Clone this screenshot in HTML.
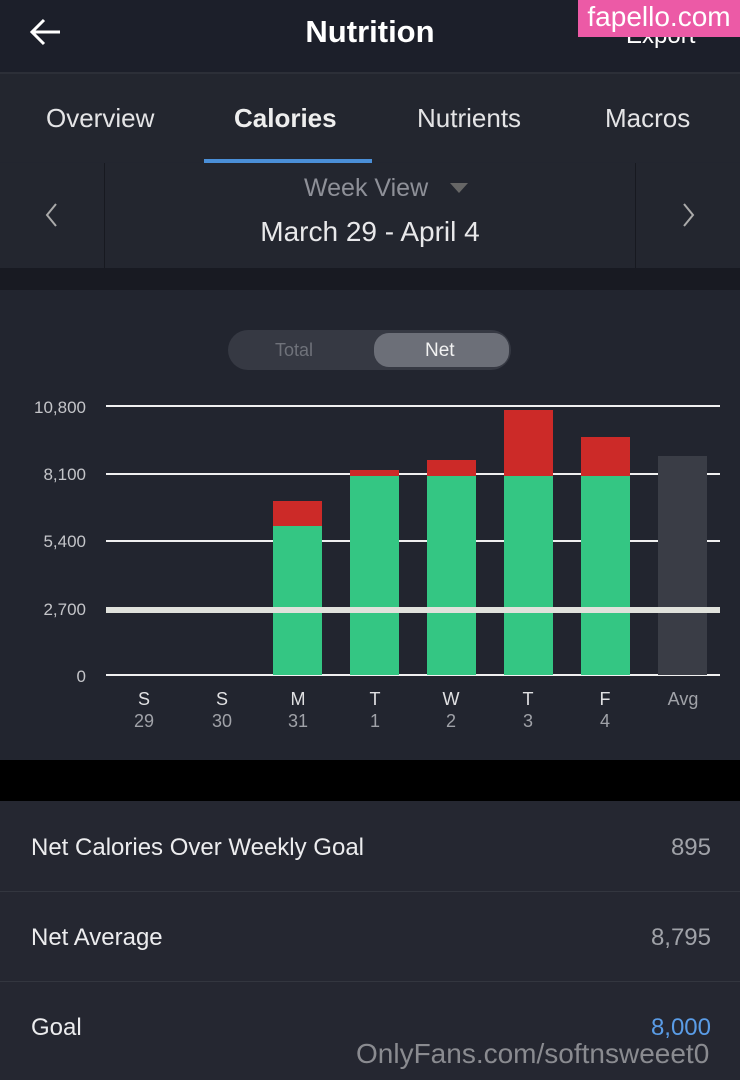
<!DOCTYPE html>
<html><head><meta charset="utf-8"><style>
*{margin:0;padding:0;box-sizing:border-box}
body{width:740px;height:1080px;background:#22252f;font-family:"Liberation Sans",sans-serif;position:relative;overflow:hidden;color:#e8e8ea}
.a{position:absolute}
.t{white-space:nowrap}
</style></head><body>
<div class="a" style="left:0;top:0;width:740px;height:72px;background:#1c1f2a"></div>
<div class="a" style="left:0;top:72px;width:740px;height:2px;background:#2c2f38"></div>
<svg class="a" style="left:28px;top:18px" width="36" height="30"><path d="M4 14 H32 M16 2 L4 14 L16 26" stroke="#fff" stroke-width="3" fill="none"/></svg>
<div class="a t" style="left:0;width:740px;top:14px;text-align:center;font-size:31px;font-weight:bold;color:#fff">Nutrition</div>
<div class="a t" style="left:626px;top:22px;font-size:24px;color:#fff">Export</div>
<div class="a t" style="left:578px;top:0;width:162px;height:37px;background:#ec5aa6;color:#fff;font-size:28px;text-align:center;line-height:34px">fapello.com</div>
<div class="a" style="left:0;top:74px;width:740px;height:88px;background:#23262f"></div>
<div class="a t" style="left:46px;top:103px;font-size:26px;color:#e4e4e6">Overview</div>
<div class="a t" style="left:234px;top:103px;font-size:26px;font-weight:bold;color:#eee">Calories</div>
<div class="a t" style="left:417px;top:103px;font-size:26px;color:#e4e4e6">Nutrients</div>
<div class="a t" style="left:605px;top:103px;font-size:26px;color:#e4e4e6">Macros</div>
<div class="a" style="left:204px;top:159px;width:168px;height:4px;background:#4a8fd8"></div>
<div class="a" style="left:0;top:163px;width:740px;height:105px;background:#23262f"></div>
<div class="a" style="left:104px;top:163px;width:1px;height:105px;background:#171920"></div>
<div class="a" style="left:635px;top:163px;width:1px;height:105px;background:#171920"></div>
<svg class="a" style="left:44px;top:202px" width="16" height="26"><path d="M12 2 L3 13 L12 24" stroke="#aaa" stroke-width="2" fill="none"/></svg>
<svg class="a" style="left:680px;top:202px" width="16" height="26"><path d="M4 2 L13 13 L4 24" stroke="#aaa" stroke-width="2" fill="none"/></svg>
<div class="a t" style="left:304px;top:174px;font-size:25px;color:#8e9098">Week View</div>
<svg class="a" style="left:450px;top:182px" width="18" height="12"><path d="M0 1 H18 L9 11Z" fill="#666"/></svg>
<div class="a t" style="left:0;width:740px;top:216px;text-align:center;font-size:28px;color:#e8e8ea">March 29 - April 4</div>
<div class="a" style="left:0;top:268px;width:740px;height:22px;background:#181a22"></div>
<div class="a" style="left:228px;top:330px;width:283px;height:40px;border-radius:20px;background:#363943"></div>
<div class="a" style="left:374px;top:333px;width:135px;height:34px;border-radius:15px;background:#6c6f78"></div>
<div class="a t" style="left:275px;top:340px;font-size:18px;color:#6f727a">Total</div>
<div class="a t" style="left:425px;top:340px;font-size:19px;color:#f2f2f2">Net</div>
<svg class="a" style="left:0;top:380px" width="740" height="360" font-family="Liberation Sans" >
<g fill="#c4c5c9" font-size="17" text-anchor="end">
<text x="86" y="33">10,800</text><text x="86" y="100">8,100</text><text x="86" y="167">5,400</text><text x="86" y="235">2,700</text><text x="86" y="302">0</text></g>
<g stroke="#f0f0f0" stroke-width="2"><line x1="106" x2="720" y1="26" y2="26"/><line x1="106" x2="720" y1="94" y2="94"/><line x1="106" x2="720" y1="161" y2="161"/><line x1="106" x2="720" y1="295" y2="295"/></g>
<rect x="273" y="121" width="49" height="25" fill="#cc2a28"/><rect x="273" y="146" width="49" height="149" fill="#34c683"/>
<rect x="350" y="90" width="49" height="6" fill="#cc2a28"/><rect x="350" y="96" width="49" height="199" fill="#34c683"/>
<rect x="427" y="80" width="49" height="16" fill="#cc2a28"/><rect x="427" y="96" width="49" height="199" fill="#34c683"/>
<rect x="504" y="30" width="49" height="66" fill="#cc2a28"/><rect x="504" y="96" width="49" height="199" fill="#34c683"/>
<rect x="581" y="57" width="49" height="39" fill="#cc2a28"/><rect x="581" y="96" width="49" height="199" fill="#34c683"/>
<rect x="658" y="76" width="49" height="219" fill="#3a3d46"/>
<rect x="106" y="227" width="614" height="6" fill="#e0e2dc"/>
<g font-size="18" text-anchor="middle" fill="#e0e0e2">
<text x="144" y="325">S</text><text x="222" y="325">S</text><text x="298" y="325">M</text><text x="375" y="325">T</text><text x="451" y="325">W</text><text x="528" y="325">T</text><text x="605" y="325">F</text><text x="683" y="325" fill="#a0a2a8">Avg</text></g>
<g font-size="18" text-anchor="middle" fill="#a0a2a8">
<text x="144" y="347">29</text><text x="222" y="347">30</text><text x="298" y="347">31</text><text x="375" y="347">1</text><text x="451" y="347">2</text><text x="528" y="347">3</text><text x="605" y="347">4</text></g>
</svg>
<div class="a" style="left:0;top:760px;width:740px;height:41px;background:#000"></div>
<div class="a" style="left:0;top:801px;width:740px;height:279px;background:#252731"></div>
<div class="a" style="left:0;top:891px;width:740px;height:1px;background:#33363f"></div>
<div class="a" style="left:0;top:981px;width:740px;height:1px;background:#33363f"></div>
<div class="a t" style="left:31px;top:834px;font-size:24px;color:#ececee">Net Calories Over Weekly Goal</div>
<div class="a t" style="right:29px;top:834px;font-size:24px;color:#a0a2a8">895</div>
<div class="a t" style="left:31px;top:924px;font-size:24px;color:#ececee">Net Average</div>
<div class="a t" style="right:29px;top:924px;font-size:24px;color:#a0a2a8">8,795</div>
<div class="a t" style="left:31px;top:1014px;font-size:24px;color:#ececee">Goal</div>
<div class="a t" style="right:29px;top:1014px;font-size:24px;color:#5a9ce6">8,000</div>
<div class="a t" style="left:356px;top:1038px;font-size:28px;color:#8a8b90">OnlyFans.com/softnsweeet0</div>
</body></html>
